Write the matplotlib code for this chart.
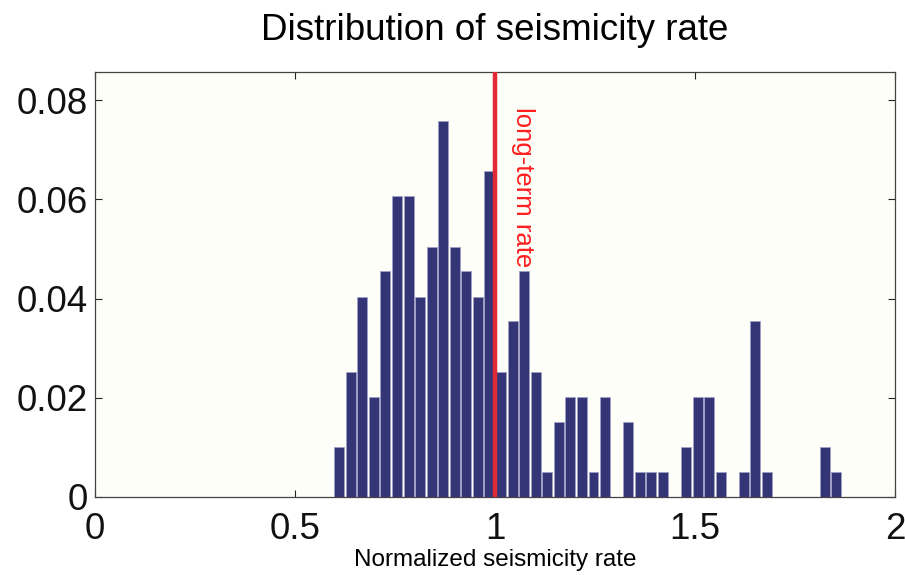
import matplotlib
matplotlib.use("Agg")
import matplotlib.pyplot as plt
import numpy as np

# Data
bin_start = 0.596
bin_width = 0.0289
frequencies = [0.0101, 0.0253, 0.0404, 0.0202, 0.0455, 0.0606, 0.0606, 0.0404,
               0.0505, 0.0758, 0.0505, 0.0455, 0.0404, 0.0657, 0.0253, 0.0354,
               0.0455, 0.0253, 0.0051, 0.0152, 0.0202, 0.0202, 0.0051, 0.0202,
               0.0, 0.0152, 0.0051, 0.0051, 0.0051, 0.0, 0.0101, 0.0202,
               0.0202, 0.0051, 0.0, 0.0051, 0.0354, 0.0051, 0.0, 0.0,
               0.0, 0.0, 0.0101, 0.0051]
long_term_rate = 1.0
xticks = [0, 0.5, 1, 1.5, 2]
xticklabels = ["0", "0.5", "1", "1.5", "2"]
yticks = [0, 0.02, 0.04, 0.06, 0.08]
yticklabels = ["0", "0.02", "0.04", "0.06", "0.08"]
title = "Distribution of seismicity rate"
xlabel = "Normalized seismicity rate"
line_label = "long-term rate"

plt.rcParams['font.family'] = ['Liberation Sans', 'DejaVu Sans']

fig = plt.figure(figsize=(9.05, 5.75), dpi=100)
ax = fig.add_axes([95/905, 78/575, 800/905, 425/575])
ax.set_facecolor('#fefef8')

centers = bin_start + bin_width * (np.arange(len(frequencies)) + 0.5)
ax.bar(centers, frequencies, width=bin_width * 0.86, color='#343577',
       edgecolor='#a0a0c8', linewidth=0.6, zorder=2)
ax.axvline(long_term_rate, color='#e02a35', linewidth=3.2, zorder=3)
ax.text(long_term_rate + 0.07, 0.0787, line_label, rotation=-90, color='#ff1f1f',
        fontsize=18.5, ha='center', va='top', zorder=4)

ax.set_xlim(0, 2)
ax.set_ylim(0, 0.0857)
ax.set_xticks(xticks)
ax.set_xticklabels(xticklabels)
ax.set_yticks(yticks)
ax.set_yticklabels(yticklabels)
ax.tick_params(direction='in', length=5, width=0.8, top=True, right=True,
               labelsize=26.5, colors='#222222', labelcolor='#111111')
ax.tick_params(axis='x', pad=11)
ax.tick_params(axis='y', pad=5)
for s in ax.spines.values():
    s.set_color('#444444')
    s.set_linewidth(0.9)

ax.set_title(title, fontsize=26.5, pad=23)
ax.set_xlabel(xlabel, fontsize=17.5, labelpad=1)

fig.savefig('out.png', dpi=100, facecolor='white')
